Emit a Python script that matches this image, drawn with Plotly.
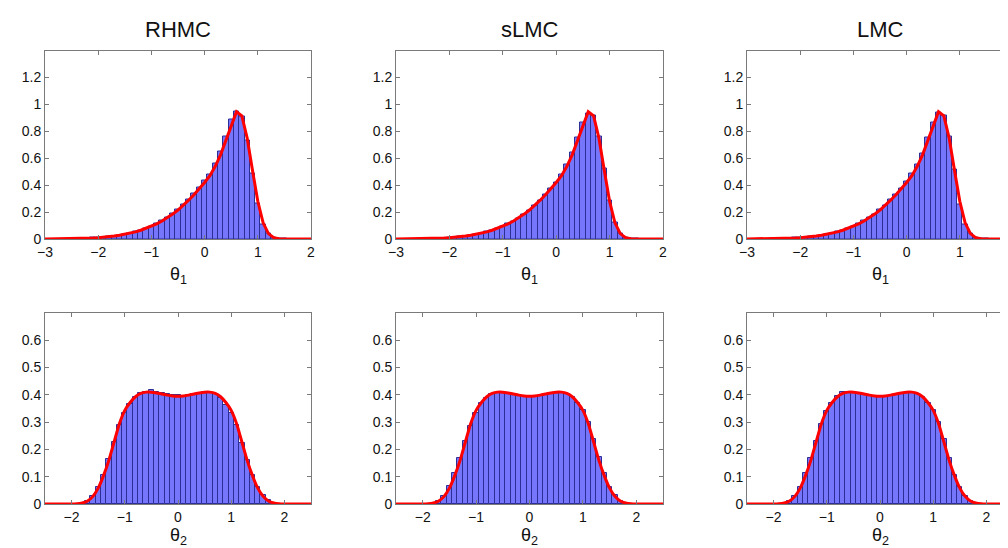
import plotly.graph_objects as go

methods = ["RHMC", "sLMC", "LMC"]

# ---- theta_1 histograms (bin width 0.1) ----
theta1_centers = [-2.5, -2.4, -2.3, -2.2, -2.1, -2.0, -1.9, -1.8, -1.7, -1.6,
                  -1.5, -1.4, -1.3, -1.2, -1.1, -1.0, -0.9, -0.8, -0.7, -0.6,
                  -0.5, -0.4, -0.3, -0.2, -0.1, 0.0, 0.1, 0.2, 0.3, 0.4,
                  0.5, 0.6, 0.7, 0.8, 0.9, 1.0, 1.1, 1.2, 1.3, 1.4, 1.5]
theta1_rhmc = [0.002, 0.003, 0.004, 0.006, 0.008, 0.010, 0.013, 0.017, 0.022, 0.028,
               0.035, 0.044, 0.054, 0.066, 0.080, 0.096, 0.114, 0.135, 0.160, 0.188,
               0.220, 0.256, 0.297, 0.340, 0.385, 0.432, 0.480, 0.560, 0.650, 0.765,
               0.885, 0.950, 0.910, 0.735, 0.490, 0.260, 0.110, 0.042, 0.012, 0.003, 0.0005]
theta1_slmc = [0.002, 0.003, 0.004, 0.005, 0.007, 0.010, 0.012, 0.016, 0.021, 0.027,
               0.034, 0.043, 0.053, 0.064, 0.078, 0.094, 0.112, 0.132, 0.156, 0.183,
               0.213, 0.250, 0.288, 0.330, 0.375, 0.422, 0.478, 0.550, 0.642, 0.752,
               0.864, 0.935, 0.920, 0.758, 0.523, 0.284, 0.123, 0.040, 0.010, 0.002, 0.0003]
theta1_lmc = [0.002, 0.003, 0.004, 0.006, 0.008, 0.010, 0.013, 0.017, 0.022, 0.028,
              0.035, 0.043, 0.053, 0.065, 0.079, 0.095, 0.113, 0.134, 0.158, 0.185,
              0.216, 0.252, 0.290, 0.333, 0.378, 0.428, 0.483, 0.550, 0.632, 0.752,
              0.864, 0.940, 0.915, 0.765, 0.517, 0.257, 0.110, 0.038, 0.010, 0.002, 0.0004]

# ---- theta_1 true density (red curve) ----
theta1_grid = [-3.0, -2.9, -2.8, -2.7, -2.6, -2.5, -2.4, -2.3, -2.2, -2.1,
               -2.0, -1.9, -1.8, -1.7, -1.6, -1.5, -1.4, -1.3, -1.2, -1.1,
               -1.0, -0.9, -0.8, -0.7, -0.6, -0.5, -0.4, -0.3, -0.2, -0.1,
               0.0, 0.1, 0.2, 0.3, 0.4, 0.5, 0.6, 0.7, 0.8, 0.9,
               1.0, 1.1, 1.2, 1.3, 1.4, 1.5, 1.6, 1.7, 1.8, 1.9, 2.0]
theta1_density = [0.0003, 0.0005, 0.0008, 0.0011, 0.0016, 0.0022, 0.003, 0.0042, 0.0056, 0.0075,
                  0.010, 0.013, 0.017, 0.022, 0.028, 0.035, 0.043, 0.053, 0.065, 0.079,
                  0.095, 0.113, 0.134, 0.158, 0.185, 0.215, 0.250, 0.288, 0.328, 0.372,
                  0.420, 0.470, 0.540, 0.625, 0.730, 0.850, 0.945, 0.915, 0.750, 0.510,
                  0.280, 0.120, 0.040, 0.010, 0.002, 0.0, 0.0, 0.0, 0.0, 0.0, 0.0]

# ---- theta_2 histograms (bin width 0.1) ----
theta2_centers = [-2.0, -1.9, -1.8, -1.7, -1.6, -1.5, -1.4, -1.3, -1.2, -1.1,
                  -1.0, -0.9, -0.8, -0.7, -0.6, -0.5, -0.4, -0.3, -0.2, -0.1,
                  0.0, 0.1, 0.2, 0.3, 0.4, 0.5, 0.6, 0.7, 0.8, 0.9,
                  1.0, 1.1, 1.2, 1.3, 1.4, 1.5, 1.6, 1.7, 1.8, 1.9, 2.0]
theta2_rhmc = [0.0005, 0.001, 0.004, 0.012, 0.030, 0.062, 0.108, 0.165, 0.228, 0.290,
               0.335, 0.365, 0.393, 0.405, 0.412, 0.416, 0.410, 0.405, 0.404, 0.400,
               0.398, 0.397, 0.401, 0.404, 0.407, 0.409, 0.408, 0.403, 0.388, 0.362,
               0.335, 0.290, 0.222, 0.160, 0.106, 0.064, 0.034, 0.013, 0.004, 0.001, 0.0003]
theta2_slmc = [0.0004, 0.001, 0.004, 0.011, 0.029, 0.066, 0.112, 0.170, 0.232, 0.285,
               0.335, 0.372, 0.390, 0.402, 0.408, 0.408, 0.404, 0.400, 0.396, 0.394,
               0.392, 0.394, 0.396, 0.401, 0.404, 0.407, 0.407, 0.402, 0.392, 0.372,
               0.345, 0.300, 0.238, 0.172, 0.112, 0.064, 0.032, 0.012, 0.004, 0.001, 0.0003]
theta2_lmc = [0.0004, 0.001, 0.004, 0.012, 0.030, 0.064, 0.112, 0.168, 0.232, 0.292,
              0.340, 0.372, 0.396, 0.410, 0.410, 0.411, 0.404, 0.398, 0.396, 0.394,
              0.392, 0.394, 0.396, 0.400, 0.404, 0.406, 0.407, 0.404, 0.392, 0.372,
              0.345, 0.300, 0.238, 0.170, 0.108, 0.062, 0.030, 0.012, 0.004, 0.001, 0.0003]

# ---- theta_2 true density (red curve) ----
theta2_grid = [-2.5, -2.4, -2.3, -2.2, -2.1, -2.0, -1.9, -1.8, -1.7, -1.6,
               -1.5, -1.4, -1.3, -1.2, -1.1, -1.0, -0.9, -0.8, -0.7, -0.6,
               -0.5, -0.4, -0.3, -0.2, -0.1, 0.0, 0.1, 0.2, 0.3, 0.4,
               0.5, 0.6, 0.7, 0.8, 0.9, 1.0, 1.1, 1.2, 1.3, 1.4,
               1.5, 1.6, 1.7, 1.8, 1.9, 2.0, 2.1, 2.2, 2.3, 2.4, 2.5]
theta2_density = [0.0, 0.0, 0.0, 0.0, 0.0, 0.0, 0.001, 0.004, 0.011, 0.028,
                  0.058, 0.104, 0.160, 0.228, 0.295, 0.343, 0.372, 0.393, 0.405, 0.410,
                  0.410, 0.407, 0.403, 0.399, 0.396, 0.395, 0.396, 0.399, 0.403, 0.407,
                  0.410, 0.410, 0.405, 0.393, 0.372, 0.343, 0.295, 0.228, 0.160, 0.104,
                  0.058, 0.028, 0.011, 0.004, 0.001, 0.0, 0.0, 0.0, 0.0, 0.0, 0.0]

theta1_hists = [theta1_rhmc, theta1_slmc, theta1_lmc]
theta2_hists = [theta2_rhmc, theta2_slmc, theta2_lmc]

W, H = 1008, 548
x_px = [(37, 303), (388, 655), (739, 1005)]
y_px = [(42.5, 231), (305, 496)]
label_offset = [36, 32]

BAR_FILL = "rgb(118,118,252)"
BAR_EDGE = "rgb(45,45,150)"
FONT = "Liberation Sans, Arial, Helvetica, sans-serif"
AX_COL = "#7a7a7a"

fig = go.Figure()
layout = {}
annotations = []

for r in range(2):
    for c in range(3):
        i = r * 3 + c + 1
        xs = "x" if i == 1 else f"x{i}"
        ys = "y" if i == 1 else f"y{i}"
        if r == 0:
            centers, vals, grid, dens = theta1_centers, theta1_hists[c], theta1_grid, theta1_density
            xr, yr = [-3, 2], [0, 1.4]
            xt = [-3, -2, -1, 0, 1, 2]
            yt = [0, 0.2, 0.4, 0.6, 0.8, 1.0, 1.2]
            lab = "θ<sub>1</sub>"
        else:
            centers, vals, grid, dens = theta2_centers, theta2_hists[c], theta2_grid, theta2_density
            xr, yr = [-2.5, 2.5], [0, 0.7]
            xt = [-2, -1, 0, 1, 2]
            yt = [0, 0.1, 0.2, 0.3, 0.4, 0.5, 0.6]
            lab = "θ<sub>2</sub>"
        fig.add_trace(go.Bar(x=centers, y=vals, width=0.1, xaxis=xs, yaxis=ys,
                             marker=dict(color=BAR_FILL, line=dict(color=BAR_EDGE, width=1)),
                             showlegend=False, hoverinfo="skip"))
        fig.add_trace(go.Scatter(x=grid, y=dens, mode="lines", xaxis=xs, yaxis=ys,
                                 line=dict(color="rgb(255,0,0)", width=3,
                                           shape="spline" if r == 1 else "linear", smoothing=0.6),
                                 showlegend=False, hoverinfo="skip"))
        x0, x1 = x_px[c]
        yt0, yb0 = y_px[r]
        common = dict(showline=True, linecolor=AX_COL, linewidth=1, mirror="ticks",
                      ticks="inside", ticklen=4, tickcolor=AX_COL, tickwidth=1,
                      showgrid=False, zeroline=False, automargin=False,
                      tickfont=dict(family=FONT, size=14, color="#111"))
        layout["xaxis" if i == 1 else f"xaxis{i}"] = dict(
            domain=[x0 / W, x1 / W], anchor=ys, range=xr, tickmode="array", tickvals=xt,
            **common)
        layout["yaxis" if i == 1 else f"yaxis{i}"] = dict(
            domain=[1 - yb0 / H, 1 - yt0 / H], anchor=xs, range=yr, tickmode="array",
            tickvals=yt, **common)
        annotations.append(dict(text=lab, xref="paper", yref="paper",
                                x=(x0 + x1) / 2 / W, y=1 - (yb0 + label_offset[r]) / H,
                                xanchor="center", yanchor="middle", showarrow=False,
                                font=dict(family=FONT, size=18, color="#111")))
        if r == 0:
            annotations.append(dict(text=methods[c], xref="paper", yref="paper",
                                    x=(x0 + x1) / 2 / W, y=1 - 21 / H,
                                    xanchor="center", yanchor="middle", showarrow=False,
                                    font=dict(family=FONT, size=22, color="#111")))

fig.update_layout(width=W, height=H, margin=dict(l=0, r=0, t=0, b=0),
                  paper_bgcolor="white", plot_bgcolor="white",
                  bargap=0, barmode="overlay", annotations=annotations, **layout)

fig.write_html("out.html")
